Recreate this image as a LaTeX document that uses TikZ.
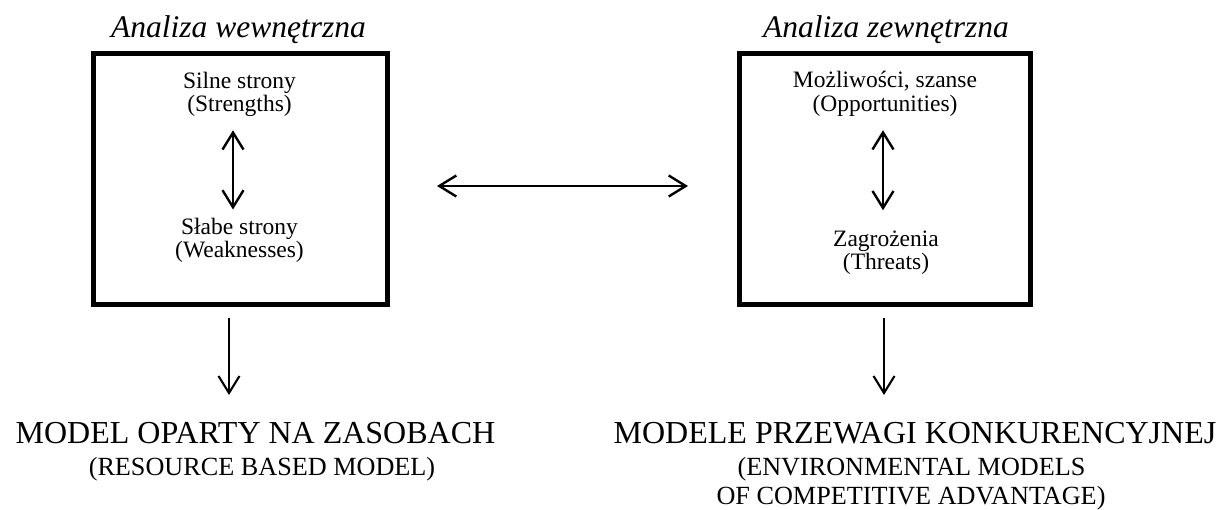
\documentclass[tikz,border=0pt]{standalone}
\usepackage{fontspec}
\setmainfont{Liberation Serif}
\usetikzlibrary{arrows.meta,calc}

\tikzset{
  barb/.tip={Straight Barb[length=17pt,width=21pt]},
  frame/.style={draw, line width=5pt, inner sep=0pt, minimum height=251pt},
  heading/.style={font=\fontsize{31.5}{36}\selectfont\itshape, anchor=base, inner sep=0pt},
  inlabel/.style={font=\fontsize{23.5}{27}\selectfont, anchor=base, inner sep=0pt},
  modelname/.style={font=\fontsize{32}{37}\selectfont, anchor=base, inner sep=0pt},
  modelnote/.style={font=\fontsize{26.2}{30}\selectfont, anchor=base, inner sep=0pt},
  twoway/.style={line width=2.4pt, {barb}-{barb}},
  oneway/.style={line width=2.1pt, -{barb}},
}

\begin{document}
\begin{tikzpicture}[x=1pt,y=-1pt]
\useasboundingbox (0,0) rectangle (1222,510);

% the two analysis frames
\node[frame, minimum width=294pt] (L) at (240.5,179) {};
\node[frame, minimum width=291pt] (R) at (885,179) {};

% headings above the frames
\node[heading] (hl) at (238.5,38) {Analiza wewnętrzna};
\node[heading] (hr) at (886,38) {Analiza zewnętrzna};

% internal analysis
\node[inlabel] (s1) at (239.5,89) {Silne strony};
\node[inlabel] (s2) at (239.5,112) {(Strengths)};
\node[inlabel] (w1) at (239.5,235) {Słabe strony};
\node[inlabel] (w2) at (239.5,258) {(Weaknesses)};

% external analysis
\node[inlabel] (o1) at (885,88) {Możliwości, szanse};
\node[inlabel] (o2) at (885,112) {(Opportunities)};
\node[inlabel] (t1) at (886,247) {Zagrożenia};
\node[inlabel] (t2) at (886,270) {(Threats)};

% resulting models
\node[modelname] (m1) at (255.5,443) {MODEL OPARTY NA ZASOBACH};
\node[modelnote] (m2) at (262,475) {(RESOURCE BASED MODEL)};
\node[modelname] (n1) at (915,443) {MODELE PRZEWAGI KONKURENCYJNEJ};
\node[modelnote] (n2) at (911.5,475) {(ENVIRONMENTAL MODELS};
\node[modelnote] (n3) at (911,504) {OF COMPETITIVE ADVANTAGE)};

% connectors
\draw[twoway] ([xshift=-6.5pt,yshift=-13pt]s2.south) -- ([xshift=-6.5pt,yshift=9pt]w1.north);
\draw[twoway] ([xshift=-2pt,yshift=-13pt]o2.south) -- ([xshift=-3pt,yshift=21pt]t1.north);
\draw[twoway] ([xshift=47pt,yshift=-7pt]L.east) -- ([xshift=-49pt,yshift=-7pt]R.west);
\draw[oneway] ($(L.south)+(-11.5,11)$) -- ($(m1.base)+(-26.5,-48)$);
\draw[oneway] ($(R.south)+(-1,11)$) -- ($(n1.base)+(-31,-48)$);
\end{tikzpicture}
\end{document}
